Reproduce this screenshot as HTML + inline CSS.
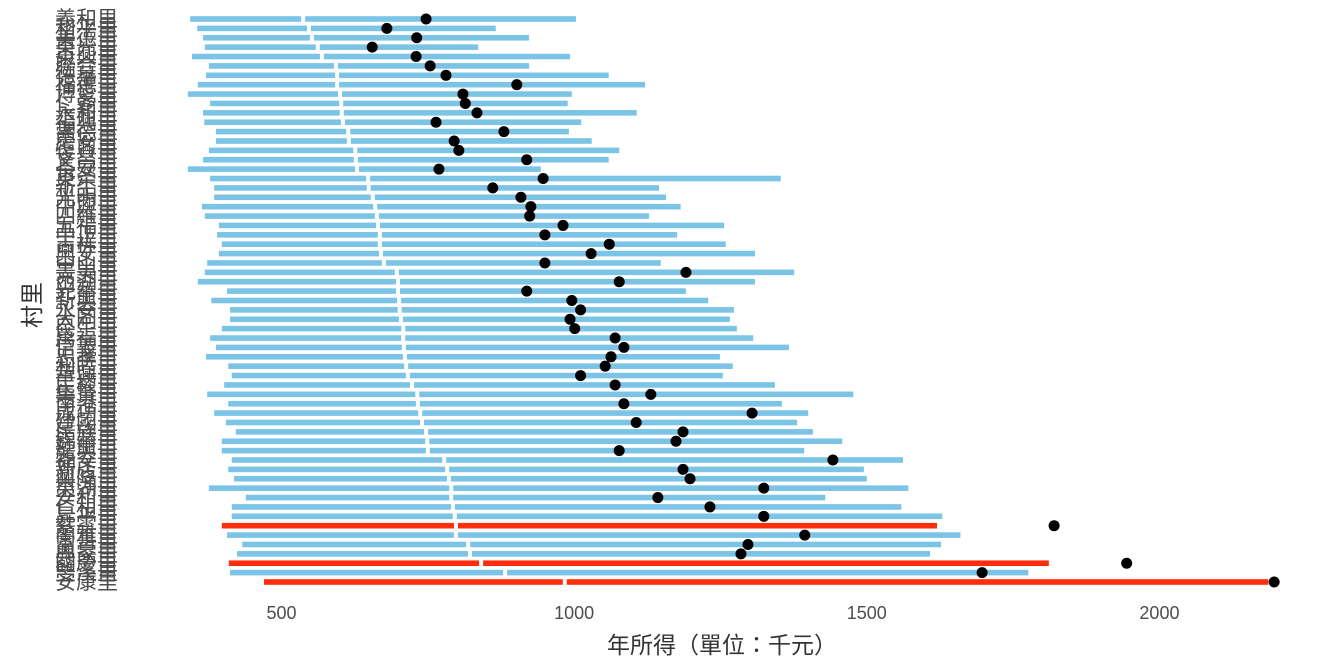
<!DOCTYPE html>
<html><head><meta charset="utf-8">
<style>
html,body{margin:0;padding:0;background:#fff;}
svg{display:block;}
text{font-family:"Liberation Sans","Noto Sans CJK TC",sans-serif;}
</style></head>
<body>
<svg id="chart" width="1344" height="672" viewBox="0 0 1344 672" xmlns="http://www.w3.org/2000/svg">
<g id="bars"></g>
<g id="ylabels"></g>
<g id="xticks"></g>
<text x="722" y="653" text-anchor="middle" font-size="23" fill="#333">年所得（單位：千元）</text>
<text transform="translate(40,305) rotate(-90)" text-anchor="middle" font-size="23" fill="#333">村里</text>
</svg>
<script>
const villages = ["義和里","和平里","美德里","東光里","東興里","聯合里","德華里","福德里","博愛里","仁愛里","永和里","福興里","崇德里","慶安里","復興里","文昌里","長安里","東榮里","新生里","光明里","中興里","四維里","五福里","中正里","吉祥里","興安里","中山里","景美里","西湖里","光華里","新興里","永安里","大同里","民生里","萬福里","信義里","忠孝里","和睦里","華興里","民權里","集賢里","南港里","成功里","建國里","民族里","錦華里","龍興里","福安里","新店里","興隆里","東湖里","安和里","仁和里","昇平里","紫雲里","蘭雅里","富貴里","興家里","國慶里","雙溪里","安康里"];
const lows = [344,356,366,369,347,376,371,357,340,378,366,368,388,388,376,366,340,378,385,385,364,369,393,390,398,393,373,369,357,407,380,412,412,398,378,388,371,409,415,402,373,409,385,405,422,398,398,415,409,419,376,439,415,415,398,407,433,424,410,412,470];
const medians = [537,547,552,562,569,593,595,595,600,602,603,605,614,615,626,627,629,648,649,656,660,663,665,668,668,670,675,697,699,699,701,702,704,708,708,709,711,713,716,723,732,733,737,740,747,749,750,778,783,786,790,790,793,796,798,798,819,822,841,882,984];
const highs = [1003,866,923,836,993,923,1059,1121,996,989,1107,1012,991,1030,1077,1059,943,1353,1145,1157,1182,1128,1256,1176,1259,1309,1148,1376,1309,1191,1229,1273,1266,1278,1306,1367,1249,1271,1254,1343,1477,1355,1400,1381,1408,1458,1393,1562,1495,1500,1571,1429,1559,1629,1620,1660,1627,1608,1811,1776,2186];
const means = [747,680,731,655,730,754,781,902,810,814,834,764,880,795,803,919,769,947,861,909,926,924,981,950,1060,1029,950,1191,1077,919,996,1011,993,1001,1070,1085,1063,1053,1011,1070,1131,1085,1304,1106,1186,1174,1077,1442,1186,1198,1324,1143,1232,1324,1820,1394,1297,1285,1944,1697,2196];
const highlighted = [54,58,60];
const xTicks = [500,1000,1500,2000];

const NS = "http://www.w3.org/2000/svg";
function xScale(v){ return 281.5 + (v - 500) * 0.5853; }
function yScale(i){ return 19 + i * (563 / 60); }
function mk(tag, attrs, parent){
  const e = document.createElementNS(NS, tag);
  for (const k in attrs) e.setAttribute(k, attrs[k]);
  parent.appendChild(e);
  return e;
}
const gB = document.getElementById('bars');
const gY = document.getElementById('ylabels');
const gX = document.getElementById('xticks');

villages.forEach((name, i) => {
  const y = yScale(i);
  const red = highlighted.indexOf(i) >= 0;
  const col = red ? '#ff2d0a' : '#7bc4e6';
  const x0 = xScale(lows[i]), xm = xScale(medians[i]), x1 = xScale(highs[i]);
  const left = mk('rect', {x: x0, y: y - 2.8, width: Math.max(0, xm - 2 - x0), height: 5.6, fill: col}, gB);
  
  
  const right = mk('rect', {x: xm + 2, y: y - 2.8, width: Math.max(0, x1 - xm - 2), height: 5.6, fill: col}, gB);
  
  
  const lab = mk('text', {x: 118, y: y + 7, 'text-anchor': 'end', 'font-size': 21, fill: '#4d4d4d'}, gY);
  lab.textContent = name;
  
  
});
villages.forEach((name, i) => {
  const dot = mk('circle', {cx: xScale(means[i]), cy: yScale(i), r: 5.5, fill: '#000'}, gB);
  
  
});
xTicks.forEach(t => {
  const tx = mk('text', {x: xScale(t), y: 619, 'text-anchor': 'middle', 'font-size': 18, fill: '#4d4d4d'}, gX);
  tx.textContent = t;
  
  
});
</script>
</body></html>
